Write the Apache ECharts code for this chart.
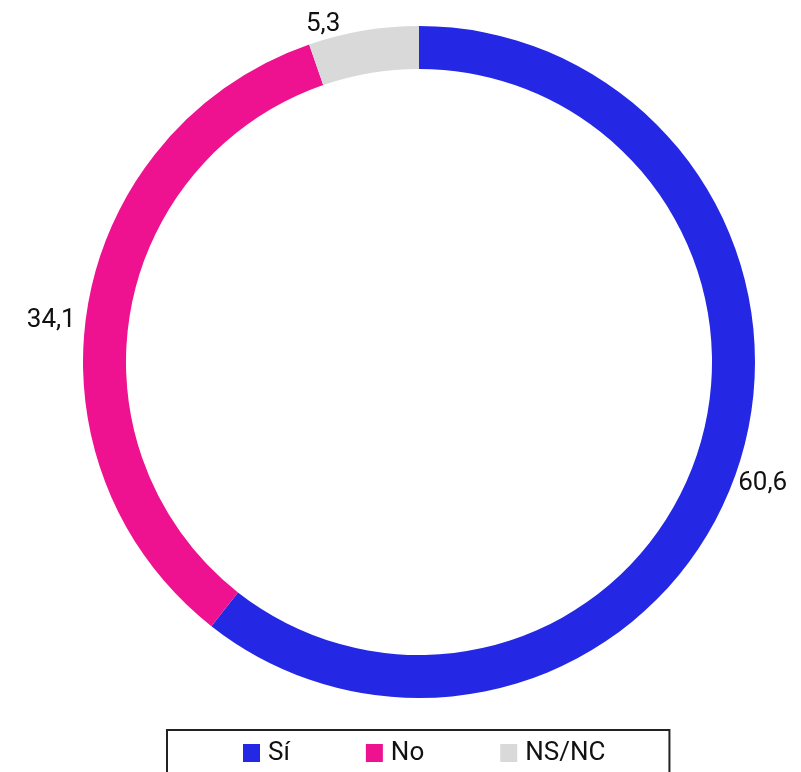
<!DOCTYPE html>
<html>
<head>
<meta charset="utf-8">
<script src="https://cdn.jsdelivr.net/npm/echarts@6/dist/echarts.min.js"></script>
<style>
html,body{margin:0;padding:0;background:#fff;}
#chart{width:801px;height:772px;}
</style>
</head>
<body>
<div id="chart"></div>
<script>
const categories = ['Sí', 'No', 'NS/NC'];
const values = [60.6, 34.1, 5.3];
const colors = ['#2428E4', '#EE1290', '#D9D9D9'];

// small nudges of the value labels (style only)
const labelNudge = [[-9, 10], [-1, 15], [-17, 0]];

const chart = echarts.init(document.getElementById('chart'), null, {renderer: 'canvas'});
chart.setOption({
  animation: false,
  color: colors,
  legend: {
    data: categories,
    orient: 'horizontal',
    left: 167,
    top: 730,
    padding: [10, 64, 40, 76],
    borderColor: '#222',
    borderWidth: 2,
    itemGap: 76,
    itemWidth: 17,
    itemHeight: 18,
    icon: 'rect',
    textStyle: {fontFamily: 'Roboto', fontSize: 26, color: '#111', padding: [0, 0, 0, 3]}
  },
  series: [{
    type: 'pie',
    radius: [293, 336],
    center: [419, 362],
    startAngle: 90,
    clockwise: true,
    avoidLabelOverlap: false,
    label: {
      show: true,
      position: 'outside',
      fontFamily: 'Roboto',
      fontSize: 26,
      color: '#111',
      formatter: p => String(p.value).replace('.', ',')
    },
    labelLine: {show: false, length: 6, length2: 0},
    labelLayout: p => ({dx: labelNudge[p.dataIndex][0], dy: labelNudge[p.dataIndex][1]}),
    emphasis: {disabled: true},
    data: categories.map((c, i) => ({name: c, value: values[i]}))
  }]
});
</script>
</body>
</html>
